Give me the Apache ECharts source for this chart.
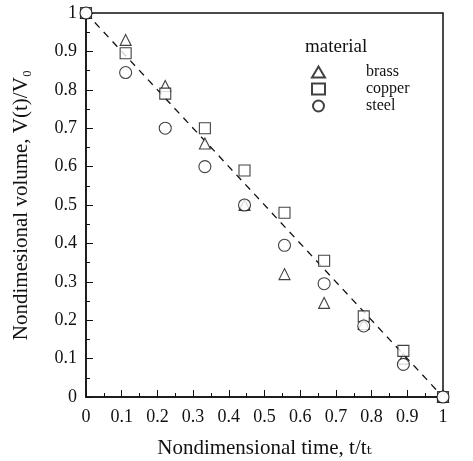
<!DOCTYPE html>
<html>
<head>
<meta charset="utf-8">
<script src="https://cdn.jsdelivr.net/npm/echarts@6/dist/echarts.min.js"></script>
<style>
  html, body { margin: 0; padding: 0; background: #fff; }
  #chart { width: 473px; height: 461px; }
</style>
</head>
<body>
<div id="chart"></div>
<script>
// nondimensional time t/tt
const times = [0, 0.111, 0.222, 0.333, 0.444, 0.556, 0.667, 0.778, 0.889, 1];
const brass  = [1, 0.93, 0.81, 0.66, 0.50, 0.32, 0.245, 0.19, 0.10, 0];
const copper = [1, 0.895, 0.79, 0.70, 0.59, 0.48, 0.355, 0.21, 0.12, 0];
const steel  = [1, 0.845, 0.70, 0.60, 0.50, 0.395, 0.295, 0.185, 0.085, 0];
const fitLine = [[0, 1], [1, 0]];

const serif = '"Liberation Serif", "DejaVu Serif", serif';
const pair = (ys) => times.map((t, i) => [t, ys[i]]);

const markerStyle = { color: '#fff', borderColor: '#111', borderWidth: 1.1 };

const chart = echarts.init(document.getElementById('chart'));

const axisCommon = {
  type: 'value',
  min: 0,
  max: 1,
  interval: 0.1,
  nameLocation: 'middle',
  nameTextStyle: { fontFamily: serif, fontSize: 21, color: '#111' },
  axisLine: { show: true, lineStyle: { color: '#111', width: 1.5 } },
  axisTick: { show: true, inside: true, length: 7, lineStyle: { color: '#111' } },
  minorTick: { show: true, splitNumber: 2, length: 4, lineStyle: { color: '#111' } },
  splitLine: { show: false },
  axisLabel: {
    fontFamily: serif, fontSize: 18, color: '#111',
    formatter: v => (v === 0 || v === 1) ? String(v) : v.toFixed(1)
  }
};

chart.setOption({
  animation: false,
  backgroundColor: '#fff',
  grid: {
    left: 86, right: 30, top: 13, bottom: 64,
    outerBoundsMode: 'none', containLabel: false,
    show: true, borderColor: '#111', borderWidth: 1.5
  },
  xAxis: Object.assign({}, axisCommon, {
    name: 'Nondimensional time, t/tₜ',
    nameGap: 41,
    axisLabel: Object.assign({}, axisCommon.axisLabel, { margin: 11 })
  }),
  yAxis: Object.assign({}, axisCommon, {
    name: 'Nondimesional volume, V(t)/V₀',
    nameGap: 54,
    axisLabel: Object.assign({}, axisCommon.axisLabel, { margin: 9 })
  }),
  legend: {
    orient: 'vertical',
    left: 306,
    top: 59,
    itemGap: 1,
    itemWidth: 13,
    itemHeight: 11,
    data: ['brass', 'copper', 'steel'],
    textStyle: { fontFamily: serif, fontSize: 16, lineHeight: 16, color: '#111', padding: [0, 0, 0, 36] }
  },
  graphic: [{
    type: 'text', left: 305, top: 38,
    style: { text: 'material', font: '19px ' + serif, fill: '#111' }
  }],
  series: [
    {
      type: 'line', data: fitLine, symbol: 'none', silent: true,
      lineStyle: { color: '#111', width: 1.3, type: [7, 6] }, z: 1
    },
    { name: 'brass', type: 'scatter', data: pair(brass), symbol: 'triangle', symbolSize: 11, itemStyle: markerStyle, z: 3 },
    { name: 'copper', type: 'scatter', data: pair(copper), symbol: 'rect', symbolSize: 11, itemStyle: markerStyle, z: 3 },
    { name: 'steel', type: 'scatter', data: pair(steel), symbol: 'circle', symbolSize: 12, itemStyle: markerStyle, z: 3 }
  ]
});
</script>
</body>
</html>
